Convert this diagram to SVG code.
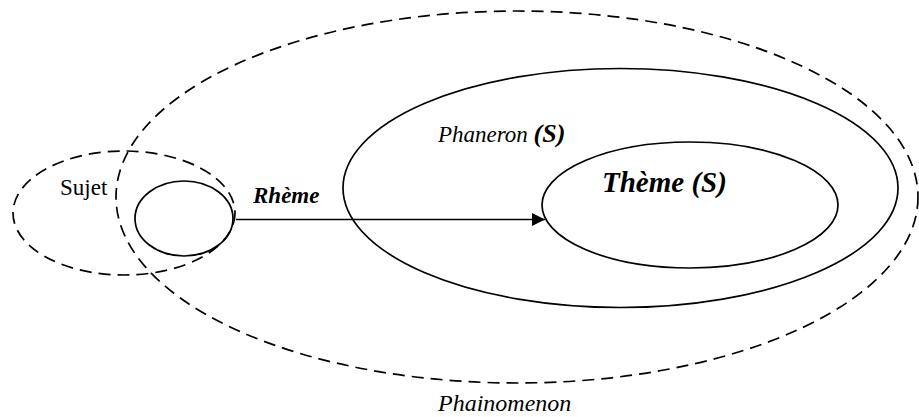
<svg xmlns="http://www.w3.org/2000/svg" width="919" height="417" viewBox="0 0 919 417">
<style>
.solid{fill:none;stroke:#000;stroke-width:1.7}
.dash{fill:none;stroke:#000;stroke-width:1.7;stroke-dasharray:12 7}
text{font-family:'Liberation Serif','DejaVu Serif',serif;fill:#000}
</style>
<defs>
<marker id="ah" markerWidth="14" markerHeight="14" refX="13" refY="6.5" orient="auto" markerUnits="userSpaceOnUse">
<path d="M0,0 L13,6.5 L0,13 Z" fill="#000"/>
</marker>
</defs>
<rect width="919" height="417" fill="#fff"/>
<g id="phainomenon">
<ellipse class="dash" cx="517" cy="197" rx="401" ry="186"/>
<text x="438" y="411" font-size="24" font-style="italic" font-family="Liberation Serif, DejaVu Serif, serif">Phainomenon</text>
</g>
<g id="sujet">
<ellipse class="dash" cx="124" cy="213" rx="111" ry="62"/>
<text x="60" y="195" font-size="23" font-family="Liberation Serif, DejaVu Serif, serif">Sujet</text>
</g>
<g id="point">
<ellipse class="solid" cx="184" cy="218.5" rx="49" ry="37.5"/>
</g>
<g id="phaneron">
<ellipse class="solid" cx="620.5" cy="188" rx="277.5" ry="119.5"/>
<text x="438" y="142" font-size="23" font-style="italic" font-family="Liberation Serif, DejaVu Serif, serif">Phaneron <tspan font-weight="bold" font-size="26">(S)</tspan></text>
</g>
<g id="theme">
<ellipse class="solid" cx="690" cy="205" rx="148" ry="63"/>
<text x="602" y="192" font-size="29" font-style="italic" font-weight="bold" font-family="Liberation Serif, DejaVu Serif, serif">Thème (S)</text>
</g>
<g id="connectors">
<line x1="236" y1="219.5" x2="545" y2="219.5" stroke="#000" stroke-width="1.7" marker-end="url(#ah)"/>
<text x="253" y="203" font-size="23" font-style="italic" font-weight="bold" font-family="Liberation Serif, DejaVu Serif, serif">Rhème</text>
</g>
</svg>
